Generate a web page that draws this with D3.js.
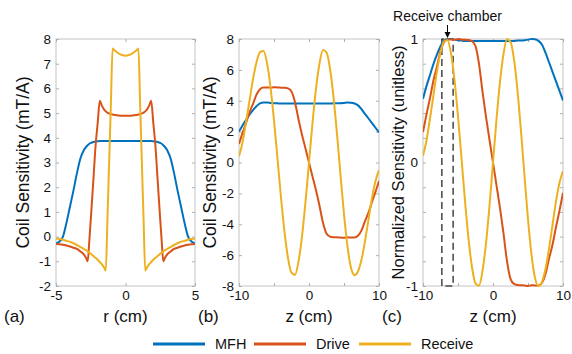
<!DOCTYPE html>
<html>
<head>
<meta charset="utf-8">
<script src="https://cdn.jsdelivr.net/npm/d3@7"></script>
<style>
  body { margin: 0; background: #fff; }
  svg { display: block; font-family: "Liberation Sans", Arial, sans-serif; }
</style>
</head>
<body>
<svg id="chart" width="572" height="354"></svg>
<script>
// ---- data ----
// (a) radial profile, r in cm
var rA = [-5, -4.75, -4.5, -4.25, -4, -3.75, -3.5, -3.25, -3, -2.85, -2.72, -2.6, -2.45, -2.3, -2.15, -2, -1.85, -1.7, -1.55, -1.42, -1.3, -1.15, -1.05, -0.93, -0.75, -0.5, -0.25, 0,
          0.25, 0.5, 0.75, 0.93, 1.05, 1.15, 1.3, 1.42, 1.55, 1.7, 1.85, 2, 2.15, 2.3, 2.45, 2.6, 2.72, 2.85, 3, 3.25, 3.5, 3.75, 4, 4.25, 4.5, 4.75, 5];
var mfhA = [-0.28, -0.2, 0.0, 0.55, 1.2, 1.85, 2.55, 3.15, 3.5, 3.62, 3.7, 3.76, 3.8, 3.83, 3.85, 3.86, 3.87, 3.87, 3.87, 3.87, 3.87, 3.87, 3.87, 3.87, 3.87, 3.87, 3.87, 3.87,
            3.87, 3.87, 3.87, 3.87, 3.87, 3.87, 3.87, 3.87, 3.87, 3.87, 3.87, 3.86, 3.85, 3.83, 3.8, 3.76, 3.7, 3.62, 3.5, 3.15, 2.55, 1.85, 1.2, 0.55, 0.0, -0.2, -0.28];
var driveA = [-0.3, -0.31, -0.33, -0.36, -0.4, -0.45, -0.5, -0.6, -0.72, -0.85, -1.0, -0.15, 1.1, 2.4, 3.7, 4.6, 5.5, 5.3, 5.15, 5.07, 5.02, 4.98, 4.96, 4.94, 4.92, 4.9, 4.89, 4.89,
              4.89, 4.9, 4.92, 4.94, 4.96, 4.98, 5.02, 5.07, 5.15, 5.3, 5.5, 4.6, 3.7, 2.4, 1.1, -0.15, -1.0, -0.85, -0.72, -0.6, -0.5, -0.45, -0.4, -0.36, -0.33, -0.31, -0.3];
var recvA = [-0.08, -0.1, -0.13, -0.17, -0.21, -0.27, -0.34, -0.42, -0.5, -0.55, -0.6, -0.65, -0.72, -0.79, -0.86, -0.94, -1.03, -1.12, -1.24, -1.38, 0.7, 3.5, 5.4, 7.62, 7.52, 7.42, 7.35, 7.32,
             7.35, 7.42, 7.52, 7.62, 5.4, 3.5, 0.7, -1.38, -1.24, -1.12, -1.03, -0.94, -0.86, -0.79, -0.72, -0.65, -0.6, -0.55, -0.5, -0.42, -0.34, -0.27, -0.21, -0.17, -0.13, -0.1, -0.08];

// (b) axial profile, z in cm
var zB = [-10, -9.5, -9, -8.5, -8, -7.5, -7, -6.5, -6, -5.5, -5, -4.5, -4, -3.5, -3, -2.5, -2, -1.5, -1, -0.5, 0,
          0.5, 1, 1.5, 2, 2.5, 3, 3.5, 4, 4.5, 5, 5.5, 6, 6.5, 7, 7.5, 8, 8.5, 9, 9.5, 10];
var mfhB = [2.0, 2.4, 2.75, 3.1, 3.4, 3.65, 3.83, 3.88, 3.88, 3.86, 3.84, 3.83, 3.82, 3.82, 3.82, 3.82, 3.82, 3.82, 3.82, 3.82, 3.82,
            3.82, 3.82, 3.82, 3.82, 3.82, 3.82, 3.83, 3.83, 3.84, 3.86, 3.88, 3.87, 3.82, 3.7, 3.45, 3.15, 2.85, 2.55, 2.25, 1.95];
var driveB = [1.2, 1.9, 2.55, 3.25, 3.8, 4.4, 4.75, 4.86, 4.86, 4.85, 4.88, 4.86, 4.85, 4.84, 4.8, 4.6, 3.9, 2.8, 1.8, 0.9, 0.0,
              -0.9, -1.8, -2.8, -3.9, -4.6, -4.8, -4.84, -4.85, -4.86, -4.88, -4.85, -4.86, -4.86, -4.75, -4.4, -3.8, -3.25, -2.55, -1.9, -1.2];
var recvB = [0.4, 1.3, 2.6, 4.0, 5.4, 6.5, 7.15, 7.23, 6.45, 4.88, 2.73, 0.25, -2.26, -4.5, -6.19, -7.14, -7.28, -6.41, -4.78, -2.55, 0.0,
             2.55, 4.78, 6.41, 7.28, 7.13, 6.09, 4.25, 1.85, -0.8, -3.35, -5.44, -6.82, -7.3, -7.05, -6.3, -5.1, -3.7, -2.3, -1.2, -0.5];

// tick labels
var yTicksA = [-2, -1, 0, 1, 2, 3, 4, 5, 6, 7, 8];
var xTicksA = [-5, 0, 5];
var yTicksB = [-8, -6, -4, -2, 0, 2, 4, 6, 8];
var xTicksB = [-10, -5, 0, 5, 10];
var xLabelsB = [-10, 0, 10];
var yTicksC = [-1, -0.8, -0.6, -0.4, -0.2, 0, 0.2, 0.4, 0.6, 0.8, 1];
var yLabelsC = [-1, 0, 1];

var seriesNames = ["MFH", "Drive", "Receive"];
var colors = ["#0072BD", "#D95319", "#EDB120"];

// receive chamber extent (cm)
var chamber = [-7.3, -5.7];

// ---- drawing ----
var svg = d3.select("#chart");
var plotTop = 39, plotBottom = 286;

function normalize(v) {
  var m = d3.max(v, function (d) { return Math.abs(d); });
  return v.map(function (d) { return d / m; });
}

var panels = [
  { x0: 56, x1: 195, xd: [-5, 5], yd: [-2, 8], xs: xTicksA, xl: xTicksA, ys: yTicksA, yl: yTicksA,
    x: rA, ser: [mfhA, driveA, recvA], xlab: "r (cm)", ylab: "Coil Sensitivity (mT/A)", ylx: 23, tag: "(a)", tagx: 4, ylfs: 17.5 },
  { x0: 239, x1: 379, xd: [-10, 10], yd: [-8, 8], xs: xTicksB, xl: xLabelsB, ys: yTicksB, yl: yTicksB,
    x: zB, ser: [mfhB, driveB, recvB], xlab: "z (cm)", ylab: "Coil Sensitivity (mT/A)", ylx: 210, tag: "(b)", tagx: 198, ylfs: 17.5 },
  { x0: 423, x1: 563, xd: [-10, 10], yd: [-1, 1], xs: xTicksB, xl: xLabelsB, ys: yTicksC, yl: yLabelsC,
    x: zB, ser: [normalize(mfhB), normalize(driveB), normalize(recvB)], xlab: "z (cm)", ylab: "Normalized Sensitivity (unitless)", ylx: 398, tag: "(c)", tagx: 382, ylfs: 16.5 }
];

panels.forEach(function (p, pi) {
  var x = d3.scaleLinear().domain(p.xd).range([p.x0, p.x1]);
  var y = d3.scaleLinear().domain(p.yd).range([plotBottom, plotTop]);
  var g = svg.append("g");

  g.append("rect")
    .attr("x", p.x0).attr("y", plotTop)
    .attr("width", p.x1 - p.x0).attr("height", plotBottom - plotTop)
    .attr("fill", "#fff").attr("stroke", "#c4c4c4").attr("stroke-width", 1);

  var fmt = function (list) { return function (d) { return list.indexOf(d) >= 0 ? d : ""; }; };

  function styleAxis(sel) {
    sel.select(".domain").remove();
    sel.selectAll(".tick line").attr("stroke", "#b0b0b0");
    sel.selectAll(".tick text").attr("font-size", 13.5).attr("fill", "#111")
      .attr("font-family", "Liberation Sans, Arial, sans-serif");
  }

  g.append("g").attr("transform", "translate(" + p.x0 + ",0)")
    .call(d3.axisLeft(y).tickValues(p.ys).tickFormat(fmt(p.yl)).tickSize(-3).tickPadding(5))
    .call(styleAxis);
  g.append("g").attr("transform", "translate(" + p.x1 + ",0)")
    .call(d3.axisRight(y).tickValues(p.ys).tickFormat("").tickSize(-3))
    .call(styleAxis);
  g.append("g").attr("transform", "translate(0," + plotBottom + ")")
    .call(d3.axisBottom(x).tickValues(p.xs).tickFormat(fmt(p.xl)).tickSize(-3).tickPadding(4))
    .call(styleAxis);
  g.append("g").attr("transform", "translate(0," + plotTop + ")")
    .call(d3.axisTop(x).tickValues(p.xs).tickFormat("").tickSize(-3))
    .call(styleAxis);

  // chamber marker sits under the curves in panel (c)
  if (pi === 2) {
    var cx0 = x(chamber[0]), cx1 = x(chamber[1]);
    g.append("path")
      .attr("d", "M" + cx0 + "," + plotBottom + "V" + plotTop + "H" + cx1 + "V" + plotBottom + "H" + cx0)
      .attr("fill", "none").attr("stroke", "#000").attr("stroke-width", 1.1)
      .attr("stroke-dasharray", "7,4");
  }

  var line = d3.line()
    .x(function (d, i) { return x(p.x[i]); })
    .y(function (d) { return y(d); })
    .curve(d3.curveMonotoneX);

  g.append("clipPath").attr("id", "clip" + pi)
    .append("rect").attr("x", p.x0).attr("y", plotTop - 1).attr("width", p.x1 - p.x0).attr("height", plotBottom - plotTop + 2);

  p.ser.forEach(function (s, si) {
    g.append("path")
      .datum(s)
      .attr("clip-path", "url(#clip" + pi + ")")
      .attr("fill", "none")
      .attr("stroke", colors[si])
      .attr("stroke-width", 2)
      .attr("stroke-linejoin", "round")
      .attr("d", line);
  });

  g.append("text")
    .attr("x", (p.x0 + p.x1) / 2).attr("y", 322)
    .attr("text-anchor", "middle").attr("font-size", 17).attr("fill", "#111")
    .text(p.xlab);
  g.append("text")
    .attr("transform", "translate(" + p.ylx + "," + ((plotTop + plotBottom) / 2) + ") rotate(-90)")
    .attr("text-anchor", "middle").attr("dominant-baseline", "central")
    .attr("font-size", p.ylfs).attr("fill", "#111")
    .text(p.ylab);
  g.append("text")
    .attr("x", p.tagx).attr("y", 322)
    .attr("font-size", 17).attr("fill", "#111")
    .text(p.tag);

  if (pi === 2) {
    var ax = (x(chamber[0]) + x(chamber[1])) / 2;
    g.append("text")
      .attr("x", ax).attr("y", 21)
      .attr("text-anchor", "middle").attr("font-size", 14).attr("fill", "#111")
      .text("Receive chamber");
    g.append("line")
      .attr("x1", ax).attr("x2", ax).attr("y1", 25).attr("y2", 34)
      .attr("stroke", "#000").attr("stroke-width", 1);
    g.append("path")
      .attr("d", "M" + (ax - 3) + ",32L" + ax + ",38L" + (ax + 3) + ",32Z")
      .attr("fill", "#000");
  }
});

// legend
var legX = [153, 254, 359];
var leg = svg.append("g").selectAll("g").data(seriesNames).enter().append("g");
leg.append("line")
  .attr("x1", function (d, i) { return legX[i]; })
  .attr("x2", function (d, i) { return legX[i] + 52; })
  .attr("y1", 344).attr("y2", 344)
  .attr("stroke", function (d, i) { return colors[i]; })
  .attr("stroke-width", 3);
leg.append("text")
  .attr("x", function (d, i) { return legX[i] + 62; })
  .attr("y", 349)
  .attr("font-size", 14.5).attr("fill", "#111")
  .text(function (d) { return d; });
</script>
</body>
</html>
